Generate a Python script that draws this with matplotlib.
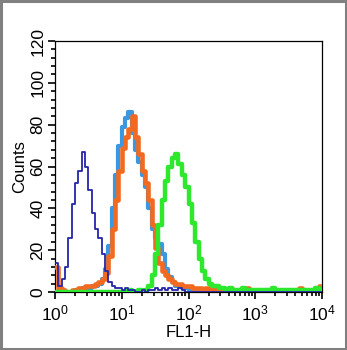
import numpy as np
import matplotlib
matplotlib.use("Agg")
import matplotlib.pyplot as plt
from matplotlib.ticker import MultipleLocator, LogLocator, NullFormatter
from matplotlib.patches import Rectangle

plt.rcParams['font.family'] = ['Liberation Sans', 'DejaVu Sans']

# histogram counts, 80 channels over 4 decades (20 per decade)
navy = [14, 3, 6, 12, 26, 42, 52, 58, 67, 60,
        49, 38, 30, 26, 18, 10, 5, 3, 2, 2,
        1, 2, 1, 1, 0, 0, 1, 0, 1, 1,
        2, 1, 2, 1, 2, 1, 1, 2, 1, 0,
        0, 0, 0, 0, 0, 0, 0, 0, 0, 0,
        0, 0, 0, 0, 0, 0, 0, 0, 0, 0,
        0, 0, 0, 0, 0, 0, 0, 0, 0, 0,
        0, 0, 0, 0, 0, 0, 0, 0, 0, 0]
light_blue = [0, 0, 0, 0, 0, 0, 1, 1, 2, 2,
              2, 3, 3, 4, 6, 11, 22, 40, 56, 70,
              79, 83, 86, 76, 68, 62, 56, 50, 40, 30,
              26, 23, 18, 11, 7, 5, 3, 3, 2, 2,
              1, 1, 1, 0, 1, 0, 1, 0, 0, 1,
              0, 0, 1, 0, 0, 0, 1, 0, 0, 0,
              0, 0, 0, 1, 0, 0, 0, 0, 0, 0,
              0, 0, 0, 0, 0, 0, 0, 0, 0, 0]
orange = [12, 2, 1, 0, 0, 1, 1, 2, 2, 3,
          3, 3, 4, 5, 6, 9, 17, 30, 44, 58,
          69, 74, 78, 84, 74, 66, 58, 52, 44, 32,
          21, 14, 10, 8, 6, 5, 4, 4, 3, 3,
          3, 2, 2, 2, 1, 2, 1, 1, 2, 1,
          1, 1, 2, 1, 1, 1, 1, 2, 1, 1,
          1, 1, 1, 1, 1, 1, 1, 1, 1, 1,
          1, 1, 1, 2, 1, 1, 1, 1, 1, 3]
green = [0, 0, 0, 0, 0, 0, 0, 0, 0, 0,
         0, 0, 0, 0, 0, 0, 0, 0, 0, 0,
         0, 0, 1, 0, 0, 1, 0, 1, 3, 8,
         18, 32, 44, 53, 60, 64, 66, 61, 56, 50,
         42, 33, 24, 16, 10, 6, 4, 3, 3, 2,
         2, 1, 2, 1, 1, 1, 2, 1, 1, 1,
         1, 1, 1, 1, 1, 2, 1, 1, 1, 1,
         1, 1, 1, 1, 1, 1, 1, 1, 2, 1]

edges = np.logspace(0, 4, len(navy) + 1)

fig = plt.figure(figsize=(3.47, 3.5), dpi=100)
fig.patches.append(Rectangle((0.003, 0.003), 0.994, 0.994, transform=fig.transFigure,
                             fill=False, edgecolor='#808080', linewidth=2.2))
ax = fig.add_axes([0.1585, 0.1657, 0.7695, 0.7171])

def hist(ax, counts, color, lw, z):
    y = np.append(counts, counts[-1])
    ax.step(edges, y, where='post', color=color, linewidth=lw, zorder=z)

hist(ax, light_blue, '#3b98e0', 3.0, 2)
hist(ax, orange, '#f26a1f', 3.3, 3)
hist(ax, green, '#2ee82e', 3.2, 4)
hist(ax, navy, '#2424a8', 1.3, 5)

ax.set_xscale('log')
ax.set_xlim(1, 1e4)
ax.set_ylim(0, 120)
ax.yaxis.set_major_locator(MultipleLocator(20))
ax.yaxis.set_minor_locator(MultipleLocator(4))
ax.xaxis.set_major_locator(LogLocator(base=10))
ax.xaxis.set_minor_locator(LogLocator(base=10, subs=np.arange(2, 10)))
ax.xaxis.set_minor_formatter(NullFormatter())

ax.tick_params(which='major', direction='out', length=5, width=1.2, labelsize=12.5)
ax.tick_params(which='minor', direction='out', length=3, width=1.2)
ax.tick_params(axis='y', pad=2)
for lab in ax.get_yticklabels():
    lab.set_rotation(90)
    lab.set_va('center')
for sp in ax.spines.values():
    sp.set_linewidth(0.9)

ax.set_ylabel('Counts', fontsize=12, labelpad=2)
ax.set_xlabel('FL1-H', fontsize=12, labelpad=1)

fig.savefig('out.png', dpi=100)
